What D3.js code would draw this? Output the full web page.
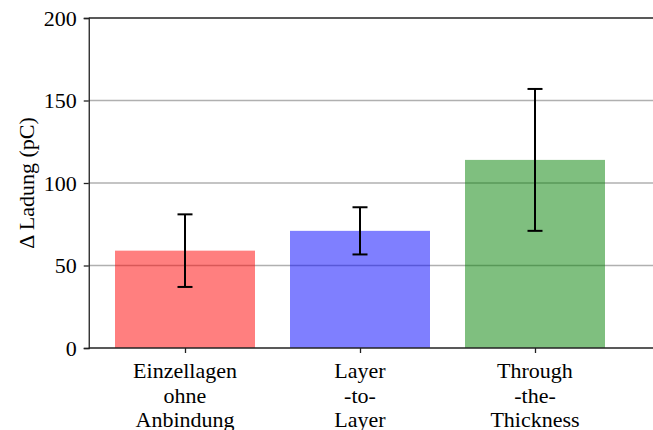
<!DOCTYPE html>
<html><head><meta charset="utf-8">
<script src="https://cdn.jsdelivr.net/npm/d3@7"></script>
<style>body{margin:0;background:#fff}svg{display:block}text{font-family:"Liberation Serif","Times New Roman",serif}</style>
</head><body><svg id="c" width="653" height="430"></svg>
<script>
const categories = [["Einzellagen","ohne","Anbindung"],["Layer","-to-","Layer"],["Through","-the-","Thickness"]];
const values = [59, 71, 114];
const errors = [22, 14.3, 43];
const colors = ["#ff0000", "#0000ff", "#008000"];
const yTicks = [0, 50, 100, 150, 200];

const svg = d3.select("#c");
const plotTop = 18, plotBottom = 348;
const x = d3.scaleLinear().domain([-0.55, 2.7]).range([88.75, 657.5]);
const y = d3.scaleLinear().domain([0, 200]).range([plotBottom, plotTop]);
const bw = x(0.8) - x(0);

// grid
svg.append("g").selectAll("line").data(yTicks.filter(d => d > 0 && d < 200)).join("line")
  .attr("x1", x.range()[0]).attr("x2", 653).attr("y1", d => y(d)).attr("y2", d => y(d))
  .attr("stroke", "#b0b0b0").attr("stroke-width", 1.5);

// bars
svg.append("g").selectAll("rect").data(values).join("rect")
  .attr("x", (d, i) => x(i) - bw / 2).attr("width", bw)
  .attr("y", d => y(d)).attr("height", d => y(0) - y(d))
  .attr("fill", (d, i) => colors[i]).attr("fill-opacity", 0.5);

// error bars
const eb = svg.append("g").attr("stroke", "#000").attr("stroke-width", 2);
values.forEach((v, i) => {
  const cx = x(i);
  eb.append("line").attr("x1", cx).attr("x2", cx).attr("y1", y(v - errors[i])).attr("y2", y(v + errors[i]));
  [v - errors[i], v + errors[i]].forEach(e => {
    eb.append("line").attr("x1", cx - 7.5).attr("x2", cx + 7.5).attr("y1", y(e)).attr("y2", y(e));
  });
});

// y axis
const ya = svg.append("g").attr("transform", `translate(${x.range()[0]},0)`)
  .call(d3.axisLeft(y).tickValues(yTicks).tickSize(5).tickPadding(7));
ya.select(".domain").attr("stroke", "#222").attr("stroke-width", 1.3);
ya.selectAll(".tick line").attr("stroke", "#222").attr("stroke-width", 1.3);
ya.selectAll(".tick text").attr("font-size", 22).attr("fill", "#000")
  .style("font-family", '"Liberation Serif", serif');

// x axis
const xa = svg.append("g").attr("transform", `translate(0,${plotBottom})`)
  .call(d3.axisBottom(x).tickValues([0, 1, 2]).tickSize(5).tickFormat(""));
xa.select(".domain").remove();
xa.append("line").attr("x1", x.range()[0]).attr("x2", 653).attr("stroke", "#222").attr("stroke-width", 1.3);
xa.selectAll(".tick line").attr("stroke", "#222").attr("stroke-width", 1.3);
categories.forEach((lines, i) => {
  const t = svg.append("text").attr("text-anchor", "middle").attr("font-size", 22).attr("fill", "#000");
  lines.forEach((l, j) => t.append("tspan").attr("x", x(i)).attr("y", 378 + j * 24.5).text(l));
});

// top spine
svg.append("line").attr("x1", x.range()[0]).attr("x2", 653).attr("y1", plotTop).attr("y2", plotTop)
  .attr("stroke", "#222").attr("stroke-width", 1.3);

// y label
svg.append("text").attr("transform", `translate(34,${(plotTop + plotBottom) / 2}) rotate(-90)`)
  .attr("text-anchor", "middle").attr("font-size", 22).attr("fill", "#000").text("Δ Ladung (pC)");
</script></body></html>
